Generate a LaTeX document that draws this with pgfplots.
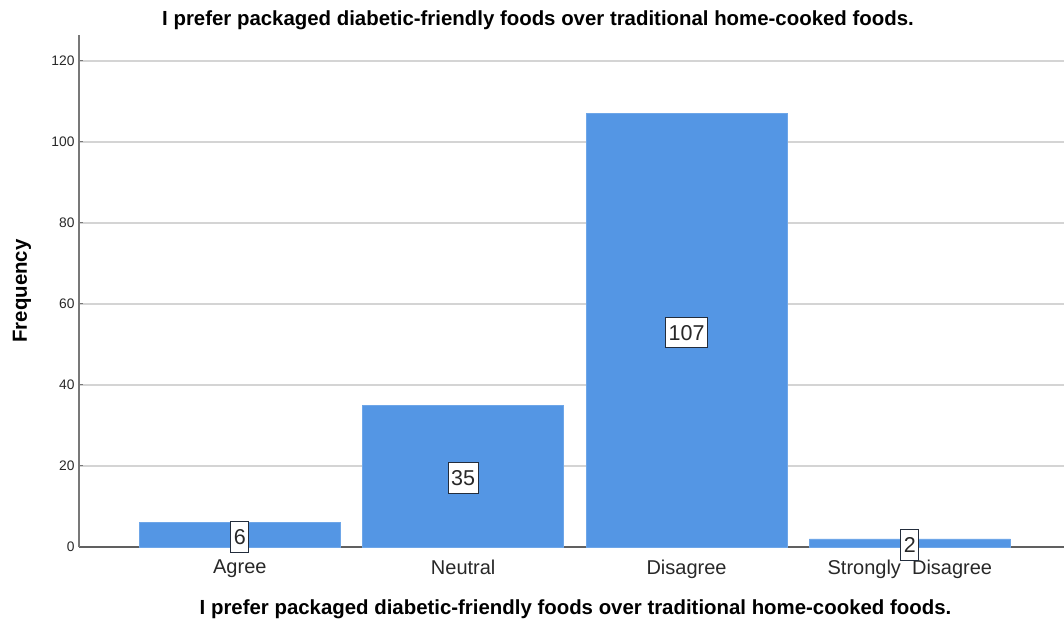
\documentclass[border=0pt]{standalone}
\usepackage{pgfplots}
\usepackage{pgfplotstable}
\pgfplotsset{compat=1.18}
\usepackage{fontspec}
\setmainfont{Liberation Sans}
\definecolor{barblue}{RGB}{84,150,228}
\definecolor{gridgray}{RGB}{212,212,212}
\definecolor{axisgray}{RGB}{120,120,120}
\definecolor{txt}{RGB}{40,40,40}
\definecolor{boxline}{RGB}{35,45,60}
% Response counts per category
\pgfplotstableread{
x v
0 6
1 35
2 107
3 2
}\freq
\begin{document}
\begin{tikzpicture}[x=1pt,y=1pt]
\useasboundingbox (-79,-76) rectangle (985,547);
\begin{axis}[
  at={(0,0)}, anchor=south west,
  scale only axis, width=985pt, height=512pt,
  xmin=-0.72, xmax=3.69, ymin=0, ymax=126.4,
  axis x line*=bottom, axis y line*=left,
  x axis line style={draw=axisgray!80!black, line width=1.2pt},
  y axis line style={draw=axisgray, line width=1.2pt},
  xtick={0,1,2,3},
  xticklabels={Agree,Neutral,Disagree,Strongly\ \ Disagree},
  xtick style={draw=none},
  ytick={0,20,...,120},
  ytick style={draw=axisgray, line width=1pt},
  major tick length=4pt,
  ymajorgrids, grid style={draw=gridgray, line width=1.3pt},
  /pgf/number format/assume math mode=true,
  yticklabel style={font=\fontsize{13.8}{14}\selectfont, text=txt, xshift=-1pt},
  xticklabel style={font=\fontsize{20}{20}\selectfont, text=txt, yshift=-9pt},
  xlabel={I prefer packaged diabetic-friendly foods over traditional home-cooked foods.},
  ylabel={Frequency},
  every axis x label/.style={at={([xshift=4pt,yshift=-62pt]rel axis cs:0.5,0)}, anchor=center, font=\fontsize{20.4}{21}\selectfont\bfseries},
  every axis y label/.style={at={([xshift=-57pt]rel axis cs:0,0.5)}, rotate=90, anchor=center, font=\fontsize{20.4}{21}\selectfont\bfseries},
]
\addplot[ybar, bar width=0.9, fill=barblue, draw=barblue!85!white, line width=0.5pt]
  table[x=x, y=v] {\freq};
\addplot[draw=none, mark=none, nodes near coords, point meta=\thisrow{v},
  every node near coord/.append style={anchor=center, yshift=-2pt, draw=boxline, fill=white, line width=1pt,
    inner xsep=3pt, inner ysep=7.5pt, text height=15.5pt, text depth=0pt,
    font=\fontsize{21.5}{22}\selectfont, text=txt}]
  table[x=x, y expr=\thisrow{v}/2] {\freq};
\end{axis}
\node[font=\fontsize{20.4}{21}\selectfont\bfseries, text=black] at (459,527) {I prefer packaged diabetic-friendly foods over traditional home-cooked foods.};
\end{tikzpicture}
\end{document}
